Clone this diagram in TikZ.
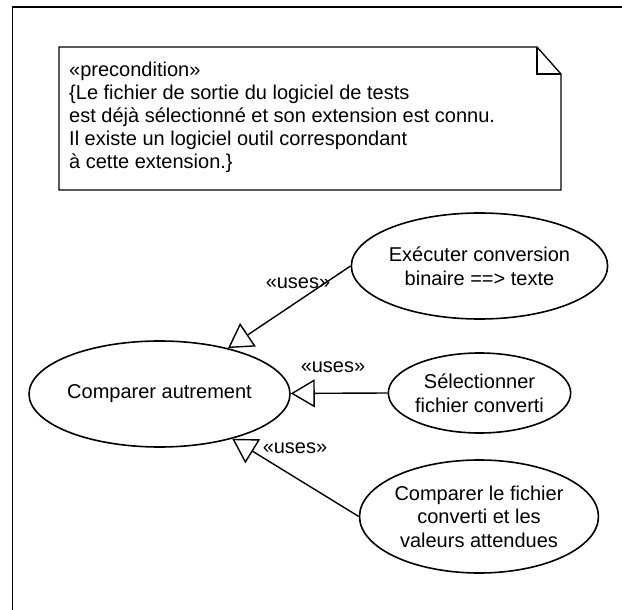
\documentclass[tikz,border=0pt]{standalone}
\usepackage{fontspec}
\setmainfont{Liberation Sans}
\usetikzlibrary{arrows.meta,shapes.geometric}

\begin{document}
\begin{tikzpicture}[x=1pt,y=-1pt,
  usecase/.style={draw, ellipse, line width=1.6pt, inner sep=0pt, align=center,
    font=\fontsize{20}{23.5}\selectfont},
  uses/.style={line width=1.4pt,
    -{Triangle[open, length=24pt, width=28pt, line width=1.4pt]}},
  stereo/.style={font=\fontsize{20}{23.5}\selectfont, inner sep=0pt},
  frame/.style={line width=1.3pt},
  notebox/.style={line width=1.3pt, line join=miter}]

  % canvas
  \useasboundingbox (0,0) rectangle (622,610);

  % outer frame (only the top and left borders are in view)
  \coordinate (fbl) at (12.5,610);
  \coordinate (ftl) at (12.5,7);
  \coordinate (ftr) at (622,7);
  \draw[frame] (fbl) -- (ftl) -- (ftr);

  % precondition note with folded corner
  \coordinate (ntl) at (59,47);
  \coordinate (nfold) at (537,47);
  \coordinate (nfoldb) at (537,74);
  \coordinate (ntr) at (561,74);
  \coordinate (nbr) at (561,190);
  \coordinate (nbl) at (59,190);
  \draw[notebox] (ntl) -- (nfold) -- (ntr) -- (nbr) -- (nbl) -- cycle;
  \draw[notebox] (nfold) -- (nfoldb) -- (ntr);
  \node[anchor=north west, inner sep=0pt, align=left,
        font=\fontsize{20}{23}\selectfont] (pre) at (69,62)
    {«precondition»\\
     \{Le fichier de sortie du logiciel de tests\\
     est déjà sélectionné et son extension est connu.\\
     Il existe un logiciel outil correspondant\\
     à cette extension.\}};

  % use cases
  \node[usecase, minimum width=215pt, minimum height=106pt] (cmp) at (159.5,394)
    {Comparer autrement};
  \node[usecase, minimum width=215pt, minimum height=106pt] (conv) at (479.5,266)
    {Exécuter conversion\\binaire ==> texte};
  \node[usecase, minimum width=161pt, minimum height=80pt] (sel) at (479.5,393)
    {Sélectionner\\fichier converti};
  \node[usecase, minimum width=228pt, minimum height=113pt] (cmpf) at (479,516.5)
    {Comparer le fichier\\converti et les\\valeurs attendues};

  % «uses» relations
  \draw[uses] (conv.west) -- (cmp);
  \draw[uses] (sel.west) -- (cmp);
  \draw[uses] (cmpf.west) -- (cmp);

  \node[stereo] (u1) at (298,283) {«uses»};
  \node[stereo] (u2) at (333,367) {«uses»};
  \node[stereo] (u3) at (295,448) {«uses»};
\end{tikzpicture}
\end{document}
